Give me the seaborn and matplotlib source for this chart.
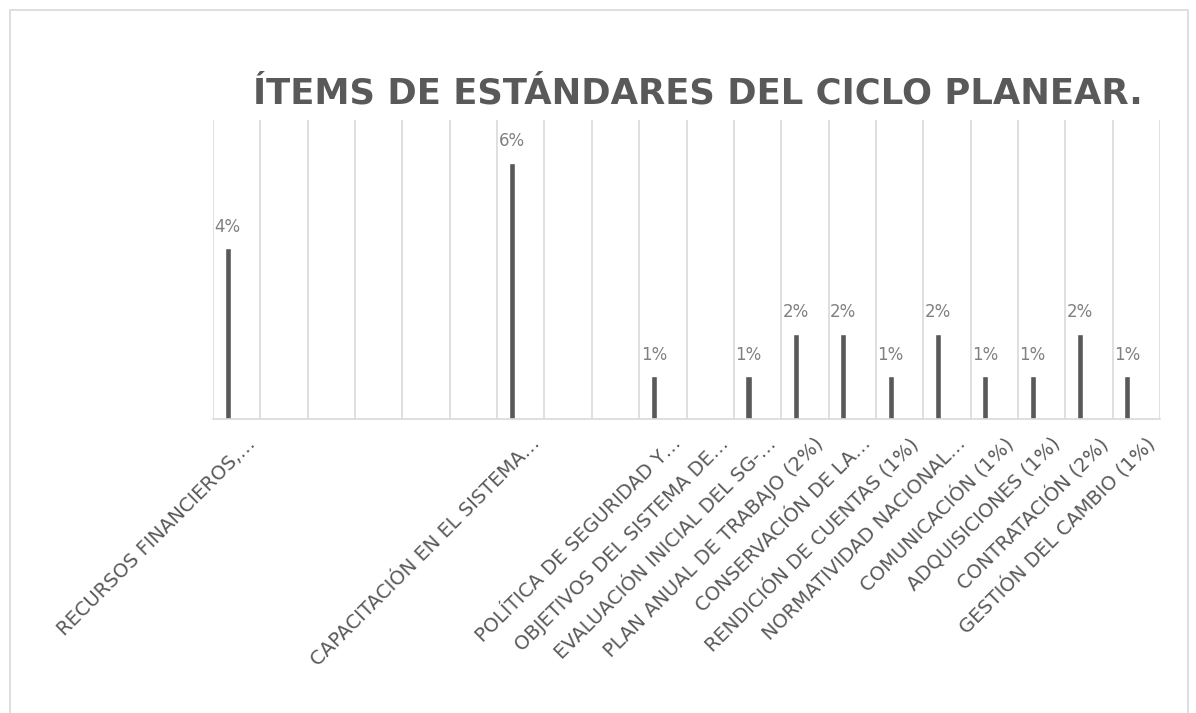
import pandas as pd
import matplotlib.pyplot as plt
import matplotlib.transforms as mtransforms
import seaborn as sns

# ---- data -------------------------------------------------------------
items = [
    "RECURSOS FINANCIEROS,…", "", "", "", "", "",
    "CAPACITACIÓN EN EL SISTEMA…", "", "",
    "POLÍTICA DE SEGURIDAD Y…",
    "OBJETIVOS DEL SISTEMA DE…",
    "EVALUACIÓN INICIAL DEL SG-…",
    "PLAN ANUAL DE TRABAJO (2%)",
    "CONSERVACIÓN DE LA…",
    "RENDICIÓN DE CUENTAS (1%)",
    "NORMATIVIDAD NACIONAL…",
    "COMUNICACIÓN (1%)",
    "ADQUISICIONES (1%)",
    "CONTRATACIÓN (2%)",
    "GESTIÓN DEL CAMBIO (1%)",
]
porcentaje = [4, 0, 0, 0, 0, 0, 6, 0, 0, 1, 0, 1, 2, 2, 1, 2, 1, 1, 2, 1]
titulo = "ÍTEMS DE ESTÁNDARES DEL CICLO PLANEAR."

df = pd.DataFrame({"pos": range(len(items)), "valor": porcentaje})

# ---- style ------------------------------------------------------------
sns.set_style("white")
plt.rcParams['font.family'] = ['DejaVu Sans']

gris = "#595959"
gris_claro = "#808080"
linea = "#d9d9d9"

fig = plt.figure(figsize=(11.96, 7.13), dpi=100)
ax = fig.add_axes([213 / 1196, 1 - 419 / 713, (1160 - 213) / 1196, (419 - 120) / 713])

sns.barplot(data=df, x="pos", y="valor", color=gris, width=0.13,
            saturation=1, ax=ax)

# bars sit a little left of the category centre (clustered layout)
for p in ax.patches:
    p.set_x(p.get_x() - 0.19)

etiquetas = [f"{v:.0f}%" if v > 0 else "" for v in porcentaje]
ax.bar_label(ax.containers[0], labels=etiquetas, padding=9,
             color=gris_claro, fontsize=12)

ax.set_ylim(0, 7)
ax.set_xlim(-0.5, len(items) - 0.5)
ax.set_yticks([])
ax.set_xlabel("")
ax.set_ylabel("")

# category separators
ax.set_xticks([i - 0.5 for i in range(len(items) + 1)], minor=True)
ax.grid(which="minor", axis="x", color=linea, linewidth=1.2)
ax.grid(which="major", visible=False)
ax.tick_params(axis="x", which="both", length=0)

ax.set_xticks(range(len(items)))
ax.set_xticklabels(items, rotation=45, ha="right", rotation_mode="anchor",
                   fontsize=14, color=gris)
offset = mtransforms.ScaledTranslation(9 / 100, -10 / 100, fig.dpi_scale_trans)
for lbl in ax.get_xticklabels():
    lbl.set_transform(lbl.get_transform() + offset)

for s in ["top", "right", "left"]:
    ax.spines[s].set_visible(False)
ax.spines["bottom"].set_color(linea)
ax.spines["bottom"].set_linewidth(1.2)

fig.text(698 / 1196, 1 - 93 / 713, titulo, ha="center", va="center",
         fontsize=25.5, fontweight="bold", color=gris)

# chart area frame
fig.patches.append(plt.Rectangle((10 / 1196, -0.01), 1178 / 1196, 1 - 10 / 713 + 0.01,
                                 transform=fig.transFigure, fill=False,
                                 edgecolor=linea, linewidth=1.2))

fig.savefig("out.png", dpi=100, facecolor="white")
